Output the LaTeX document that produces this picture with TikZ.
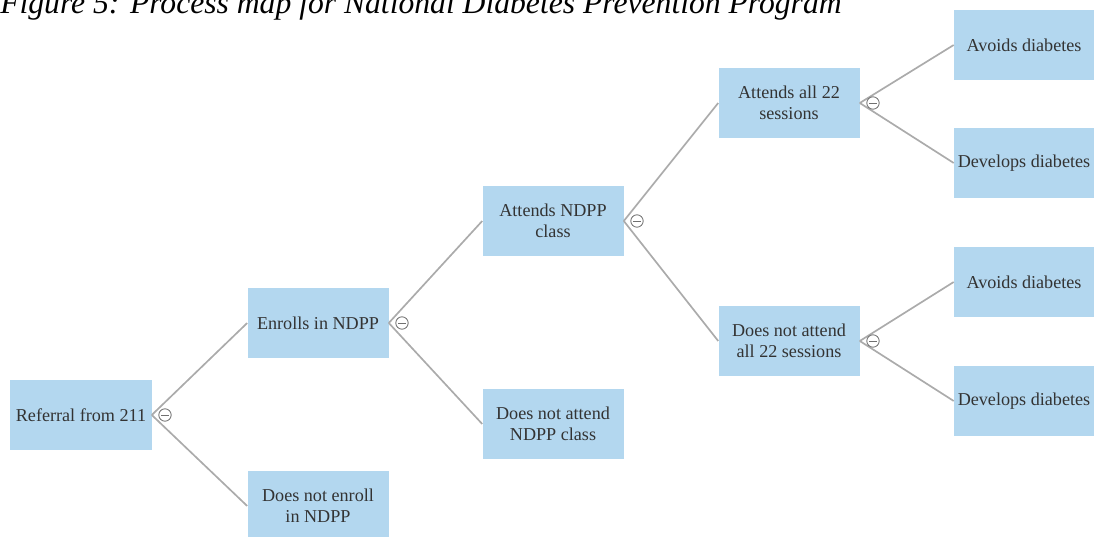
\documentclass[tikz,border=0pt]{standalone}
\usepackage{fontspec}
\setmainfont{Liberation Serif}
\usetikzlibrary{calc}
\definecolor{mapblue}{HTML}{B3D7EF}
\definecolor{mapline}{HTML}{ABABAB}
\definecolor{mapink}{HTML}{333333}
\definecolor{maptog}{HTML}{707070}
\tikzset{
  bx/.style={fill=mapblue, align=center, text=mapink, font=\fontsize{12.9}{15}\selectfont, minimum width=3.525cm, minimum height=1.75cm, inner sep=2pt},
  edge/.style={draw=mapline, line width=1.2pt},
  tog/.style={circle, draw=maptog, line width=0.6pt, fill=white, minimum size=0.31cm, inner sep=0pt,
    path picture={\draw[maptog, line width=0.7pt] ([xshift=-0.09cm]path picture bounding box.center) -- ([xshift=0.09cm]path picture bounding box.center);}},
}
\begin{document}
\begin{tikzpicture}
    \useasboundingbox (0,0) rectangle (27.35,13.425);
    \node[font=\fontsize{22.5}{26}\selectfont\itshape, anchor=base west, inner sep=0pt] (title) at (0,13.09) {Figure 5: Process map for National Diabetes Prevention Program};
    % tree, left to right
    \node[bx] (ref) at (2.025,3.05) {Referral from 211};
    \node[bx] (enr) at (7.95,5.35) {Enrolls in NDPP};
    \node[bx] (noenr) at (7.95,0.775) {Does not enroll\\in NDPP};
    \node[bx] (att) at (13.825,7.9) {Attends NDPP\\class};
    \node[bx] (noatt) at (13.825,2.825) {Does not attend\\NDPP class};
    \node[bx] (all) at (19.725,10.85) {Attends all 22\\sessions};
    \node[bx] (notall) at (19.725,4.9) {Does not attend\\all 22 sessions};
    \node[bx, minimum width=3.5cm] (av1) at (25.6,12.3) {Avoids diabetes};
    \node[bx, minimum width=3.5cm] (dv1) at (25.6,9.35) {Develops diabetes};
    \node[bx, minimum width=3.5cm] (av2) at (25.6,6.375) {Avoids diabetes};
    \node[bx, minimum width=3.5cm] (dv2) at (25.6,3.4) {Develops diabetes};
    \foreach \a/\b in {ref/enr,ref/noenr,enr/att,enr/noatt,att/all,att/notall,all/av1,all/dv1,notall/av2,notall/dv2}
      \draw[edge] (\a.east) -- (\b.west);
    \foreach \p in {ref,enr,att,all,notall}
      \node[tog] (tog-\p) at ($(\p.east)+(0.33,0)$) {};
\end{tikzpicture}
\end{document}
